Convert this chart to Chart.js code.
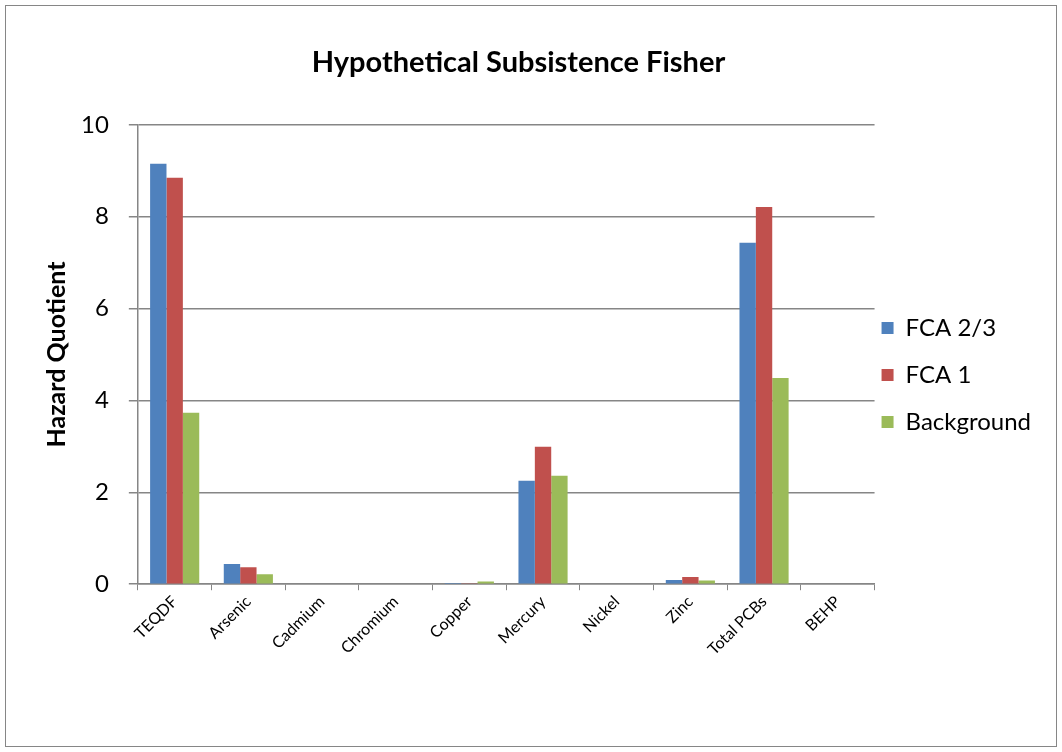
<!DOCTYPE html>
<html>
<head>
<meta charset="utf-8">
<script src="https://cdn.jsdelivr.net/npm/chart.js@4.4.1/dist/chart.umd.min.js"></script>
<style>
html,body{margin:0;padding:0;background:#fff;}
#wrap{position:absolute;left:0;top:0;width:1062px;height:752px;}
</style>
</head>
<body>
<div id="wrap"><canvas id="c" width="1062" height="752"></canvas></div>
<script>
const categories = ["TEQDF","Arsenic","Cadmium","Chromium","Copper","Mercury","Nickel","Zinc","Total PCBs","BEHP"];
const fca23 = [9.15, 0.44, 0.0, 0.0, 0.005, 2.25, 0.0, 0.09, 7.43, 0.0];
const fca1 = [8.85, 0.37, 0.0, 0.0, 0.01, 2.99, 0.0, 0.16, 8.21, 0.0];
const background = [3.73, 0.22, 0.0, 0.0, 0.06, 2.36, 0.0, 0.08, 4.49, 0.0];
const yTicks = [0, 2, 4, 6, 8, 10];

const FONT = "Lato, 'Open Sans', sans-serif";

const borderPlugin = {
  id: 'outerBorder',
  afterLayout(chart) {
    const lg = chart.legend;
    if (lg) {
      const dx = -16, dy = 22;
      lg.left += dx; lg.right += dx;
      lg.top += dy; lg.bottom += dy;
    }
    const tb = chart.titleBlock;
    if (tb) {
      const tx = -31;
      tb.left += tx; tb.right += tx;
    }
  },
  afterDraw(chart) {
    const ctx = chart.ctx;
    ctx.save();
    ctx.strokeStyle = '#868686';
    ctx.lineWidth = 1;
    ctx.strokeRect(5.5, 5.5, 1051, 741);
    ctx.restore();
  }
};

new Chart(document.getElementById('c'), {
  type: 'bar',
  data: {
    labels: categories,
    datasets: [
      {label: 'FCA 2/3', data: fca23, backgroundColor: '#4f81bd', borderWidth: 0},
      {label: 'FCA 1', data: fca1, backgroundColor: '#c0504d', borderWidth: 0},
      {label: 'Background', data: background, backgroundColor: '#9bbb59', borderWidth: 0}
    ]
  },
  plugins: [borderPlugin],
  options: {
    responsive: false,
    animation: false,
    devicePixelRatio: 1,
    layout: {padding: {left: 42, right: 5, top: 45, bottom: 91}},
    datasets: {bar: {categoryPercentage: 0.667, barPercentage: 1.0}},
    plugins: {
      title: {
        display: true,
        text: 'Hypothetical Subsistence Fisher',
        font: {family: FONT, size: 29, weight: 'bold'},
        color: '#000',
        padding: {top: 0, bottom: 45}
      },
      legend: {
        position: 'right',
        align: 'center',
        labels: {
          font: {family: FONT, size: 24},
          color: '#000',
          boxWidth: 12,
          boxHeight: 12,
          padding: 23
        }
      },
      tooltip: {enabled: false}
    },
    scales: {
      x: {
        grid: {display: true, drawOnChartArea: false, drawTicks: true, tickLength: 6, color: '#868686', offset: true},
        border: {color: '#868686', width: 1.5},
        ticks: {font: {family: FONT, size: 16}, color: '#000', maxRotation: 45, minRotation: 45, padding: 2}
      },
      y: {
        min: 0, max: 10,
        afterBuildTicks(axis) { axis.ticks = yTicks.map(v => ({value: v})); },
        grid: {color: '#868686', lineWidth: 1.5, tickLength: 9},
        border: {color: '#868686', width: 1.5},
        ticks: {font: {family: FONT, size: 24}, color: '#000', padding: 20},
        title: {display: true, text: 'Hazard Quotient', font: {family: FONT, size: 25, weight: 'bold'}, color: '#000', padding: {top: 0, bottom: -11}}
      }
    }
  }
});
</script>
</body>
</html>
